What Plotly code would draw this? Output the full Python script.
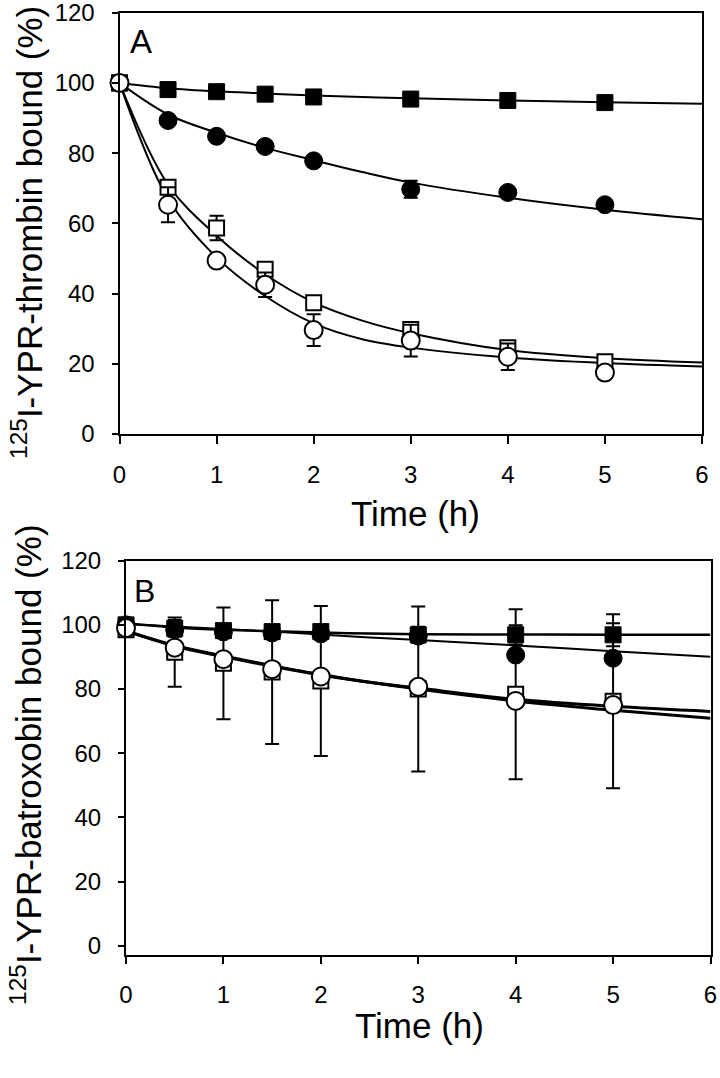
import plotly.graph_objects as go

# ---------------- data ----------------
t = [0, 0.5, 1, 1.5, 2, 3, 4, 5]
tc = [0, 0.5, 1, 1.5, 2, 2.5, 3, 4, 5, 6]

# Panel A (125I-YPR-thrombin)
A_fsq = [100, 98.1, 97.5, 96.8, 96.0, 95.4, 95.0, 94.4]
A_fsq_err = [0, 1, 0.8, 0.8, 0.8, 0.8, 0.8, 0.8]
A_fci = [100, 89.3, 84.8, 81.9, 77.8, 69.7, 68.8, 65.3]
A_fci_err = [0, 1, 1, 1.5, 1, 2.4, 1, 1]
A_osq = [100, 70.3, 58.7, 46.9, 37.4, 29.8, 24.6, 20.6]
A_osq_err = [0, 2, 3.5, 2, 1.5, 2, 1.5, 1]
A_oci = [100, 65.3, 49.4, 42.5, 29.6, 26.6, 22.0, 17.5]
A_oci_err = [0, 5, 1, 3.5, 4.5, 4.5, 3.8, 1]

A_fsq_fit = [100, 98.5, 97.6, 97.0, 96.4, 96.0, 95.6, 95.0, 94.5, 94.1]
A_fci_fit = [100, 91.0, 85.8, 81.5, 78.0, 74.6, 71.6, 67.3, 63.9, 61.2]
A_osq_fit = [100, 71.0, 56.5, 45.5, 37.5, 32.3, 28.7, 23.9, 21.6, 20.4]
A_oci_fit = [100, 67.0, 50.3, 39.3, 31.5, 27.0, 24.6, 21.8, 20.2, 19.2]

# Panel B (125I-YPR-batroxobin)
B_fsq = [100, 98.9, 98.2, 97.9, 97.9, 96.9, 96.9, 96.9]
B_fsq_err = [0, 2.6, 2, 2, 2, 2.5, 3, 3.6]
B_fci = [100, 98.5, 97.8, 97.5, 97.2, 96.5, 90.6, 89.6]
B_osq = [98.5, 91.5, 88.0, 85.3, 82.5, 80.0, 78.4, 76.2]
B_osq_err = [1, 10.8, 17.4, 22.4, 23.4, 25.7, 26.5, 27.1]
B_oci = [99, 92.9, 89.3, 86.2, 83.9, 80.7, 76.3, 75.0]

B_fsq_fit = [100.5, 99.2, 98.5, 98.0, 97.6, 97.3, 97.1, 97.0, 96.9, 96.9]
B_fci_fit = [100.3, 99.5, 98.7, 97.9, 97.0, 96.1, 95.3, 93.6, 91.8, 90.1]
B_osq_fit = [98.2, 93.4, 90.1, 87.1, 84.4, 82.1, 80.3, 76.8, 74.6, 73.0]
B_oci_fit = [98.0, 93.6, 90.3, 87.3, 84.5, 82.1, 80.0, 76.3, 73.4, 70.9]

x_ticks = [0, 1, 2, 3, 4, 5, 6]
y_ticks = [0, 20, 40, 60, 80, 100, 120]

W, H = 720, 1078
FONT = "Liberation Sans, Arial, sans-serif"

fig = go.Figure()


def add_fit(y, xa, ya, w=2):
    fig.add_trace(go.Scatter(x=tc, y=y, mode="lines", xaxis=xa, yaxis=ya,
                             line=dict(color="black", width=w, shape="spline"),
                             showlegend=False, hoverinfo="skip", cliponaxis=False))


def add_pts(y, err, xa, ya, symbol, filled, size):
    fig.add_trace(go.Scatter(
        x=t, y=y, mode="markers", xaxis=xa, yaxis=ya, cliponaxis=False,
        marker=dict(symbol=symbol, size=size,
                    color="black" if filled else "white",
                    line=dict(color="black", width=1 if filled else 2)),
        error_y=dict(type="data", array=err, visible=err is not None,
                     color="black", thickness=2, width=7),
        showlegend=False))


# Panel A
for y in (A_fsq_fit, A_fci_fit, A_osq_fit, A_oci_fit):
    add_fit(y, "x", "y")
add_pts(A_fsq, A_fsq_err, "x", "y", "square", True, 16)
add_pts(A_fci, A_fci_err, "x", "y", "circle", True, 18)
add_pts(A_osq, A_osq_err, "x", "y", "square", False, 15)
add_pts(A_oci, A_oci_err, "x", "y", "circle", False, 18)

# Panel B
add_fit(B_fsq_fit, "x2", "y2", 2.5)
add_fit(B_fci_fit, "x2", "y2", 2)
add_fit(B_osq_fit, "x2", "y2", 3)
add_fit(B_oci_fit, "x2", "y2", 3)
add_pts(B_fsq, B_fsq_err, "x2", "y2", "square", True, 16)
add_pts(B_fci, None, "x2", "y2", "circle", True, 18)
add_pts(B_osq, B_osq_err, "x2", "y2", "square", False, 15)
add_pts(B_oci, None, "x2", "y2", "circle", False, 18)


def px_x(v):
    return v / W


def px_y(v):
    return 1 - v / H


axis_common = dict(showgrid=False, zeroline=False, showline=True, linecolor="black",
                   linewidth=2, mirror=True, ticks="outside", tickcolor="black",
                   tickwidth=2, automargin=False, ticklabeloverflow="allow",
                   tickfont=dict(family=FONT, size=24, color="black"))

fig.update_layout(
    width=W, height=H, margin=dict(l=0, r=0, t=0, b=0, autoexpand=False),
    paper_bgcolor="white", plot_bgcolor="white", showlegend=False,
    xaxis=dict(domain=[px_x(119.5), px_x(702)], range=[0, 6], tickvals=x_ticks,
               ticklen=8, anchor="y", ticklabelstandoff=10, **axis_common),
    yaxis=dict(domain=[px_y(434), px_y(12.7)], range=[0, 120], tickvals=y_ticks,
               ticklen=6, anchor="x", ticklabelstandoff=12, **axis_common),
    xaxis2=dict(domain=[px_x(126), px_x(710.5)], range=[0, 6], tickvals=x_ticks,
                ticklen=7, anchor="y2", ticklabelstandoff=10, **axis_common),
    yaxis2=dict(domain=[px_y(955), px_y(560.7)], range=[-2.9, 120], tickvals=y_ticks,
                ticklen=6, anchor="x2", ticklabelstandoff=12, **axis_common),
)

ann_font = dict(family=FONT, size=35, color="black")
annotations = [
    dict(text="Time (h)", x=px_x(416), y=px_y(513), xanchor="center", yanchor="middle"),
    dict(text="Time (h)", x=px_x(419), y=px_y(1025), xanchor="center", yanchor="middle"),
    dict(text="<sup>125</sup>I-YPR-thrombin bound (%)", x=px_x(27), y=px_y(233),
         xanchor="center", yanchor="middle", textangle=-90),
    dict(text="<sup>125</sup>I-YPR-batroxobin bound (%)", x=px_x(26), y=px_y(765),
         xanchor="center", yanchor="middle", textangle=-90),
    dict(text="A", x=px_x(128), y=px_y(41), xanchor="left", yanchor="middle",
         font=dict(family=FONT, size=33, color="black")),
    dict(text="B", x=px_x(132), y=px_y(591), xanchor="left", yanchor="middle",
         font=dict(family=FONT, size=32, color="black")),
]
for a in annotations:
    a.setdefault("font", ann_font)
    a.update(xref="paper", yref="paper", showarrow=False)
fig.update_layout(annotations=annotations)

# remove the default 8px page margin so the figure fills the window exactly
fig.write_html("out.html", config={"displayModeBar": False},
               post_script="document.body.style.margin='0';")
